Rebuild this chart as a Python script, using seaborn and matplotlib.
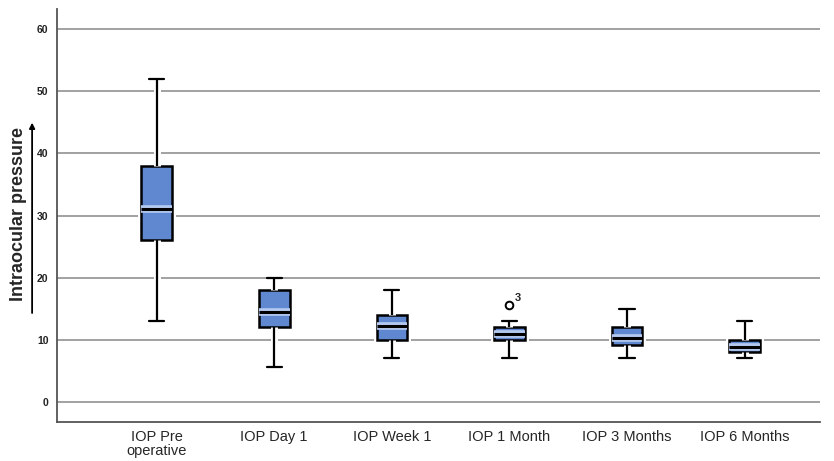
import numpy as np
import pandas as pd
import matplotlib
matplotlib.use("Agg")
import matplotlib.pyplot as plt
import matplotlib.patheffects as pe
import seaborn as sns

# five-number summaries
groups = ['IOP Pre\noperative', 'IOP Day 1', 'IOP Week 1', 'IOP 1 Month', 'IOP 3 Months', 'IOP 6 Months']
lows = [13, 5.7, 7, 7, 7, 7]
q1s = [26, 12, 10, 10, 9.2, 8]
medians = [31, 14.5, 12.2, 11, 10.3, 8.8]
q3s = [38, 18, 14, 12, 12, 10]
highs = [52, 20, 18, 13, 15, 13]
outliers = [[], [], [], [15.6], [], []]
outlier_labels = {3: '3'}

# build raw values that reproduce those quartiles
rows = []
for g, lo, a, m, b, hi, out in zip(groups, lows, q1s, medians, q3s, highs, outliers):
    for v in [lo, a, a, m, m, b, b, hi] + out:
        rows.append({'group': g, 'iop': v})
df = pd.DataFrame(rows)

sns.set_style("white")
plt.rcParams['font.family'] = ['Liberation Sans', 'DejaVu Sans']

fig = plt.figure(figsize=(8.34, 4.61), dpi=100)
ax = fig.add_axes([0.068, 0.085, 0.915, 0.895])

for y in range(0, 61, 10):
    ax.axhline(y, color='#9a9a9a', lw=1.3, zorder=0)

white_gap = [pe.Stroke(linewidth=5, foreground='white'), pe.Normal()]
sns.boxplot(data=df, x='group', y='iop', order=groups, ax=ax, width=0.26,
            color='#5f88d0', saturation=1, linewidth=1.5, linecolor='black',
            boxprops=dict(edgecolor='black', lw=1.8, path_effects=white_gap, zorder=2),
            whiskerprops=dict(color='black', lw=1.6, path_effects=white_gap),
            capprops=dict(color='black', lw=1.6),
            medianprops=dict(color='black', lw=2.2,
                             path_effects=[pe.Stroke(linewidth=5.5, foreground='#b4c9ef'), pe.Normal()]),
            flierprops=dict(marker='o', markersize=5.5, markerfacecolor='white',
                            markeredgecolor='black', markeredgewidth=1.4),
            capwidths=0.13)

for i, lab in outlier_labels.items():
    for v in outliers[i]:
        ax.annotate(lab, (i, v), xytext=(4, 3), textcoords='offset points',
                    fontsize=8, fontweight='bold')

ax.set_xlim(-0.85, 5.64)
ax.set_ylim(-3.2, 63.2)
ax.set_yticks(range(0, 61, 10))
ax.tick_params(axis='y', length=0, pad=6, labelsize=7.5)
ax.tick_params(axis='x', length=0, pad=6, labelsize=10.5)
for t in ax.get_yticklabels():
    t.set_fontweight('bold')
    t.set_color('#222222')
for t in ax.get_xticklabels():
    t.set_linespacing(0.95)
ax.set_xlabel('')
ax.set_ylabel('')
for s in ['top', 'right']:
    ax.spines[s].set_visible(False)
for s in ['left', 'bottom']:
    ax.spines[s].set_color('#555555')
    ax.spines[s].set_linewidth(1.3)

fig.text(0.022, 0.535, 'Intraocular pressure', rotation=90, ha='center', va='center',
         fontsize=13, fontweight='bold')
fig.add_artist(matplotlib.patches.FancyArrowPatch((0.0385, 0.315), (0.0385, 0.74),
               transform=fig.transFigure, arrowstyle='-|>', mutation_scale=8,
               color='black', lw=1.3))

fig.savefig('out.png', dpi=100)
